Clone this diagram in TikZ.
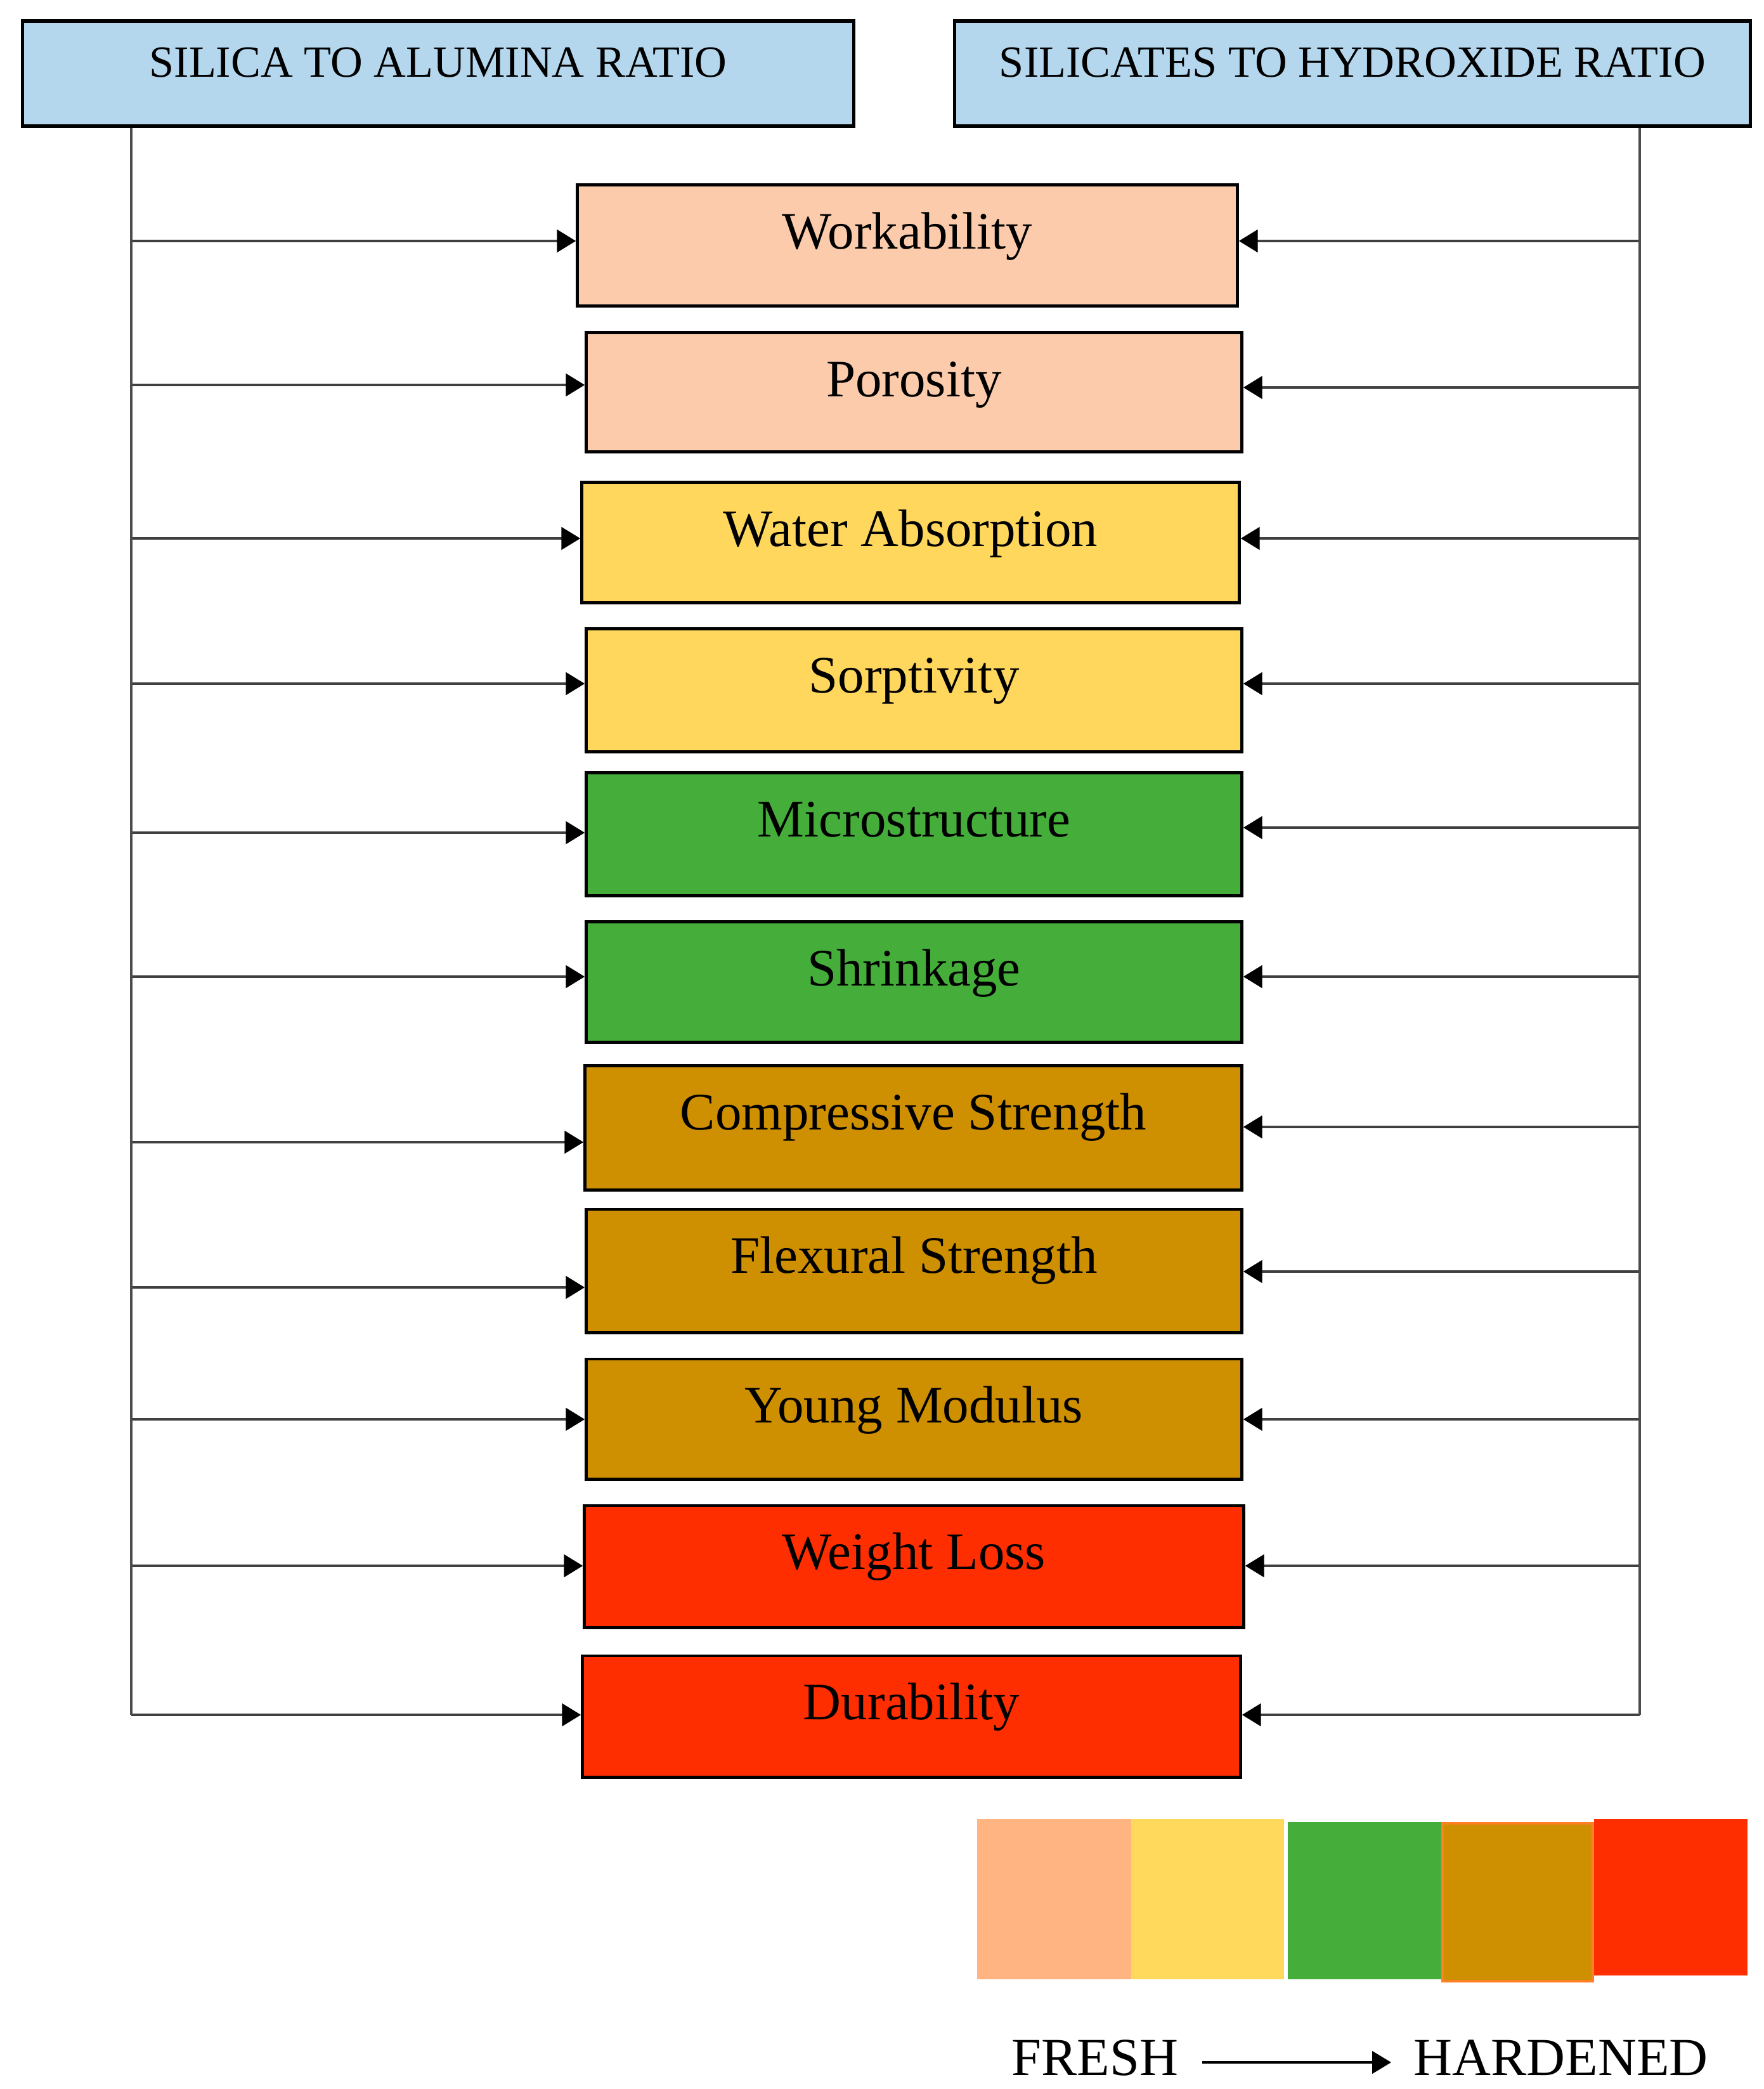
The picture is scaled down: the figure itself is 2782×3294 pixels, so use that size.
\documentclass[tikz,border=0pt]{standalone}
\usepackage{fontspec}
\setmainfont{Liberation Serif}
\usetikzlibrary{arrows.meta}
\definecolor{topblue}{HTML}{B4D7EE}
\definecolor{peach}{HTML}{FCCBAC}
\definecolor{yel}{HTML}{FFD75D}
\definecolor{grn}{HTML}{45AE3A}
\definecolor{gold}{HTML}{CE8F00}
\definecolor{redc}{HTML}{FF2E00}
\definecolor{lpeach}{HTML}{FFB482}
\definecolor{lyel}{HTML}{FFD95C}
\definecolor{lorange}{HTML}{FF7F27}
\tikzset{
  x=0.01cm, y=-0.01cm,
  topbox/.style={draw=black, line width=1.6pt, fill=topblue, inner xsep=0pt, inner ysep=0pt,
    font=\fontsize{20}{24}\selectfont, text height=0.89cm, text depth=0.77cm,
    minimum height=1.66cm},
  pbox/.style={draw=black, line width=1.4pt, inner xsep=0pt, inner ysep=0pt,
    font=\fontsize{23.6}{28}\selectfont, text height=1cm},
  conn/.style={draw=black!70, line width=1.3pt},
  arr/.style={draw=black!75, line width=1.4pt, -{Triangle[length=8.5pt,width=10pt,color=black]}},
  legtext/.style={font=\fontsize{24}{28}\selectfont, inner sep=0pt}
}
\begin{document}
\begin{tikzpicture}
\useasboundingbox (0,0) rectangle (2782,3294);
% top boxes
\node[topbox, minimum width=13.10cm] (tl) at (691,116) {SILICA TO ALUMINA RATIO};
\node[topbox, minimum width=12.54cm] (tr) at (2133,116) {SILICATES TO HYDROXIDE RATIO};
% property boxes
\node[pbox, fill=peach, minimum width=10.40cm, minimum height=1.90cm, text depth=0.90cm] (b1) at (1431,387) {Workability};
\node[pbox, fill=peach, minimum width=10.33cm, minimum height=1.87cm, text depth=0.87cm] (b2) at (1441.5,618.5) {Porosity};
\node[pbox, fill=yel, minimum width=10.36cm, minimum height=1.89cm, text depth=0.89cm] (b3) at (1436,855.5) {Water Absorption};
\node[pbox, fill=yel, minimum width=10.33cm, minimum height=1.93cm, text depth=0.93cm] (b4) at (1441.5,1088.5) {Sorptivity};
\node[pbox, fill=grn, minimum width=10.33cm, minimum height=1.93cm, text depth=0.93cm] (b5) at (1441.5,1315.5) {Microstructure};
\node[pbox, fill=grn, minimum width=10.33cm, minimum height=1.89cm, text depth=0.89cm] (b6) at (1441.5,1548.5) {Shrinkage};
\node[pbox, fill=gold, minimum width=10.35cm, minimum height=1.95cm, text depth=0.95cm] (b7) at (1440.5,1778.5) {Compressive Strength};
\node[pbox, fill=gold, minimum width=10.33cm, minimum height=1.94cm, text depth=0.94cm] (b8) at (1441.5,2004) {Flexural Strength};
\node[pbox, fill=gold, minimum width=10.33cm, minimum height=1.89cm, text depth=0.89cm] (b9) at (1441.5,2237.5) {Young Modulus};
\node[pbox, fill=redc, minimum width=10.39cm, minimum height=1.92cm, text depth=0.92cm] (b10) at (1441.5,2470) {Weight Loss};
\node[pbox, fill=redc, minimum width=10.37cm, minimum height=1.91cm, text depth=0.91cm] (b11) at (1437.5,2706.5) {Durability};
% connectors
\foreach \i/\ly/\ry in {1/380/380, 2/607/611, 3/849/849, 4/1078/1078, 5/1313/1305, 6/1540/1540,
  7/1801/1777, 8/2030/2005, 9/2238/2238, 10/2469/2469, 11/2704/2704} {
  \coordinate (L\i) at (207,\ly);
  \coordinate (R\i) at (2586,\ry);
  \draw[arr] (L\i) -- (L\i -| b\i.west);
  \draw[arr] (R\i) -- (R\i -| b\i.east);
}
\draw[conn] (tl.south -| L1) -- (L11);
\draw[conn] (tr.south -| R1) -- (R11);
% legend
\fill[lpeach] (1541,2868) rectangle (1784,3121);
\fill[lyel] (1784,2868) rectangle (2025,3121);
\fill[grn] (2031,2873) rectangle (2273,3121);
\filldraw[fill=gold, draw=lorange, line width=1.2pt] (2275,2875) rectangle (2512,3124);
\fill[redc] (2514,2868) rectangle (2756,3115);
\node[legtext, anchor=base west] (fresh) at (1595,3272) {FRESH};
\node[legtext, anchor=base west] (hard) at (2229,3272) {HARDENED};
\coordinate (fa) at (1896,3252);
\coordinate (fb) at (2194,3252);
\draw[draw=black, line width=1pt, -{Triangle[length=8.5pt,width=10pt]}] (fa) -- (fb);
\end{tikzpicture}
\end{document}
